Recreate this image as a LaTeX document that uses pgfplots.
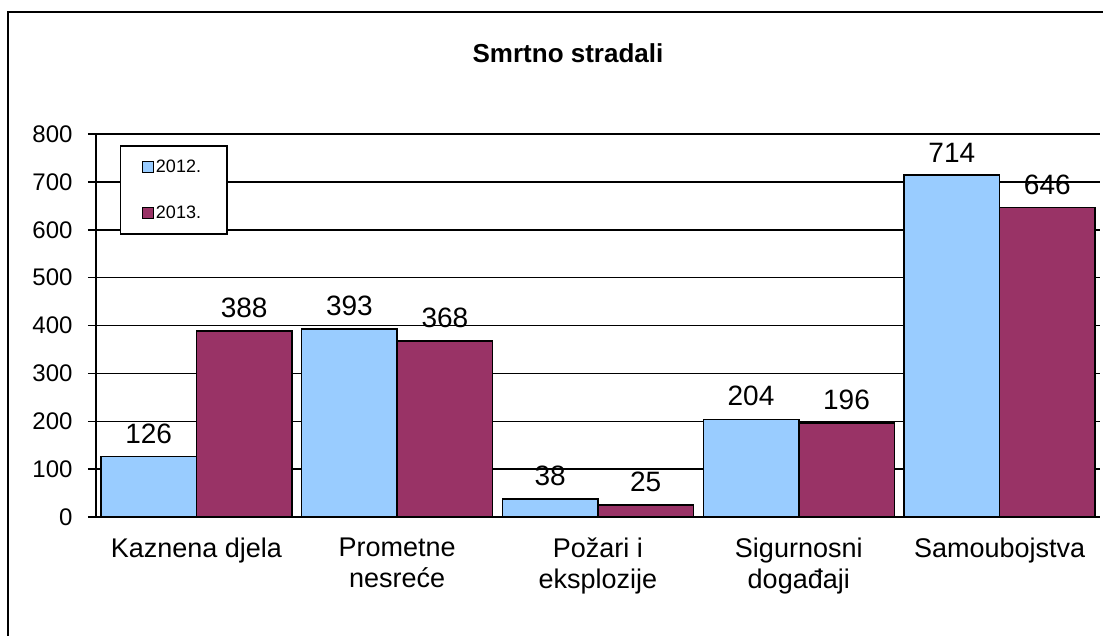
\documentclass[border=0pt]{standalone}
\usepackage{pgfplots}
\pgfplotsset{compat=1.18}
\usepackage{fontspec}
\setmainfont{Liberation Sans}
\definecolor{c2012}{HTML}{99CCFF}
\definecolor{c2013}{HTML}{993366}
\pgfplotsset{/pgf/number format/assume math mode=true}
\begin{document}
\begin{tikzpicture}[x=1pt,y=1pt]
\useasboundingbox (0,0) rectangle (1103,635);
\draw[line width=2pt] (8,-5) -- (8,623) -- (1110,623);
\node[font=\bfseries\fontsize{26}{28}\selectfont, anchor=base] at (568,572) {Smrtno stradali};
\begin{axis}[
  at={(96pt,118pt)}, anchor=south west,
  scale only axis, width=1004pt, height=383pt,
  ybar=0pt, bar width=95.5pt,
  xmin=-0.5, xmax=4.5, ymin=0, ymax=800,
  ytick={0,100,...,800},
  xtick={0,1,2,3,4},
  xticklabels={Kaznena djela, Prometne\\nesreće, Požari i\\eksplozije, Sigurnosni\\događaji, Samoubojstva},
  minor xtick={-0.5,0.5,...,4.5},
  xtick style={draw=none},
  minor tick length=7pt,
  major tick length=8pt,
  tick align=outside,
  axis x line*=bottom, axis y line*=left,
  axis line style={line width=1.5pt, -},
  ytick style={line width=1.5pt, black},
  minor tick style={line width=1.5pt, black},
  ymajorgrids, major grid style={black, line width=1.5pt},
  yticklabel style={font=\fontsize{24}{26}\selectfont, xshift=-12pt},
  xticklabel style={font=\fontsize{27}{31}\selectfont, align=center, yshift=-9pt},
  nodes near coords,
  nodes near coords style={font=\fontsize{28}{30}\selectfont, black, yshift=9pt},
  legend style={at={(axis description cs:0.0239,0.971)}, anchor=north west, draw=black, line width=1.5pt, font=\fontsize{18}{20}\selectfont, inner xsep=13pt, inner ysep=12pt, row sep=28pt},
  legend cell align=left,
  legend image code/.code={\path (0pt,0pt); \draw[#1,line width=1pt] (8pt,-5.5pt) rectangle (19pt,5.5pt);},
]
\addplot[fill=c2012, draw=black, line width=1.5pt] coordinates {(0,126) (1,393) (2,38) (3,204) (4,714)};
\addplot[fill=c2013, draw=black, line width=1.5pt] coordinates {(0,388) (1,368) (2,25) (3,196) (4,646)};
\legend{\makebox[56pt][l]{2012.},\makebox[56pt][l]{2013.}}
\end{axis}
\end{tikzpicture}
\end{document}
